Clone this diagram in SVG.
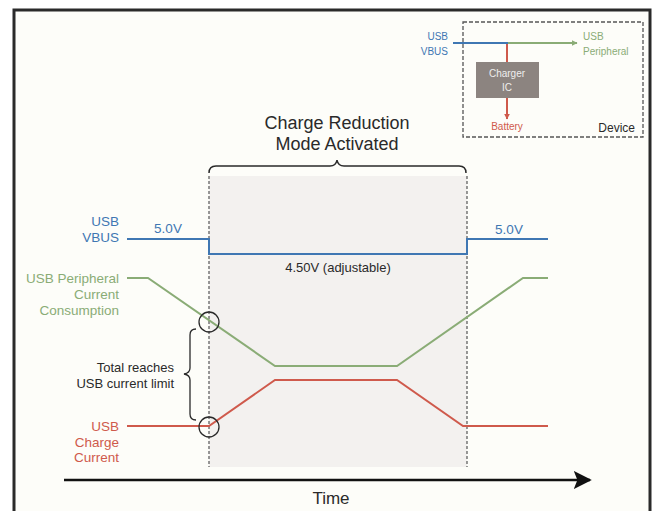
<svg xmlns="http://www.w3.org/2000/svg" width="654" height="511" viewBox="0 0 654 511">
<defs>
<style>
text{font-family:"Liberation Sans",Arial,sans-serif}
.blue{fill:#3f77b3}
.green{fill:#8aac76}
.red{fill:#cf5a4c}
.dark{fill:#2a2a2a}
.ln{fill:none;stroke-width:2}
.dash{stroke:#555;stroke-width:1.2;stroke-dasharray:3,2;fill:none}
</style>
<marker id="ah" viewBox="0 0 10 10" refX="9" refY="5" markerWidth="6" markerHeight="6" orient="auto" markerUnits="userSpaceOnUse"><path d="M0,0 L10,5 L0,10 z" fill="#8aac76"/></marker>
<marker id="ahr" viewBox="0 0 10 10" refX="9" refY="5" markerWidth="6" markerHeight="6" orient="auto" markerUnits="userSpaceOnUse"><path d="M0,0 L10,5 L0,10 z" fill="#cf5a4c"/></marker>
<marker id="ahk" viewBox="0 0 10 10" refX="9" refY="5" markerWidth="18" markerHeight="18" orient="auto" markerUnits="userSpaceOnUse"><path d="M0,0 L10,5 L0,10 L2,5 z" fill="#111"/></marker>
</defs>
<rect width="654" height="511" fill="#ffffff"/>
<rect x="14" y="10" width="636" height="520" fill="#fdfdf9" stroke="#2a2a2a" stroke-width="3"/>

<g id="shade">
<rect x="209" y="176" width="258" height="291" fill="#f3f1ef"/>
<line class="dash" x1="209" y1="176" x2="209" y2="467"/>
<line class="dash" x1="467" y1="176" x2="467" y2="467"/>
</g>

<g id="title">
<text x="337" y="129" font-size="18" text-anchor="middle" class="dark">Charge Reduction</text>
<text x="337" y="150" font-size="18" text-anchor="middle" class="dark">Mode Activated</text>
<path d="M209,173 Q209,166 216,166 L330,166 Q336,166 337,160 Q338,166 344,166 L459,166 Q466,166 466,173" fill="none" stroke="#2a2a2a" stroke-width="1.5"/>
</g>

<g id="inset">
<rect x="463" y="22" width="180" height="115" fill="none" stroke="#555" stroke-width="1.3" stroke-dasharray="4,2"/>
<text x="448" y="40" font-size="10" text-anchor="end" class="blue">USB</text>
<text x="448" y="55" font-size="10" text-anchor="end" class="blue">VBUS</text>
<text x="583" y="40" font-size="10" class="green">USB</text>
<text x="583" y="55" font-size="10" class="green">Peripheral</text>
<line x1="507" y1="43" x2="577" y2="43" stroke="#8aac76" stroke-width="2" marker-end="url(#ah)"/>
<line x1="453" y1="43" x2="508" y2="43" stroke="#3f77b3" stroke-width="2"/>
<line x1="507" y1="44" x2="507" y2="62" stroke="#cf5a4c" stroke-width="2"/>
<line x1="507" y1="98" x2="507" y2="119" stroke="#cf5a4c" stroke-width="2" marker-end="url(#ahr)"/>
<rect x="476" y="62" width="63" height="36" fill="#8c8480"/>
<text x="507" y="77" font-size="10" text-anchor="middle" fill="#eeeeee">Charger</text>
<text x="507" y="91" font-size="10" text-anchor="middle" fill="#eeeeee">IC</text>
<text x="507" y="130" font-size="10" text-anchor="middle" class="red">Battery</text>
<text x="635" y="132" font-size="12" text-anchor="end" class="dark">Device</text>
</g>

<g id="vbus">
<text x="119" y="226" font-size="13.5" text-anchor="end" class="blue">USB</text>
<text x="119" y="242" font-size="13.5" text-anchor="end" class="blue">VBUS</text>
<text x="168" y="233" font-size="13.5" text-anchor="middle" class="blue">5.0V</text>
<text x="509" y="234" font-size="13.5" text-anchor="middle" class="blue">5.0V</text>
<text x="338" y="272" font-size="13" text-anchor="middle" class="dark">4.50V (adjustable)</text>
</g>

<g id="peripheral">
<text x="119" y="283" font-size="13.5" text-anchor="end" class="green">USB Peripheral</text>
<text x="119" y="299" font-size="13.5" text-anchor="end" class="green">Current</text>
<text x="119" y="315" font-size="13.5" text-anchor="end" class="green">Consumption</text>
</g>

<g id="charge">
<text x="119" y="431" font-size="13.5" text-anchor="end" class="red">USB</text>
<text x="119" y="447" font-size="13.5" text-anchor="end" class="red">Charge</text>
<text x="119" y="462" font-size="13.5" text-anchor="end" class="red">Current</text>
</g>

<g id="limit">
<text x="174" y="372" font-size="13" text-anchor="end" class="dark">Total reaches</text>
<text x="174" y="388" font-size="13" text-anchor="end" class="dark">USB current limit</text>
<path d="M196,329 Q190,329 190,335 L190,368 Q190,373 184,374 Q190,375 190,380 L190,414 Q190,420 196,420" fill="none" stroke="#2a2a2a" stroke-width="1.3"/>
</g>

<g id="connectors">
<polyline class="ln" stroke="#3f77b3" points="127,239 209,239 209,254 467,254 467,239 548,239"/>
<polyline class="ln" stroke="#8aac76" points="127,278 148,278 275,366 397,366 523,278 548,278"/>
<polyline class="ln" stroke="#cf5a4c" points="127,426 209,426 275,380 397,380 463,426 548,426"/>
<circle cx="209" cy="322" r="10" fill="none" stroke="#2a2a2a" stroke-width="1.3"/>
<circle cx="209" cy="427" r="10" fill="none" stroke="#2a2a2a" stroke-width="1.3"/>
<line x1="64" y1="480" x2="590" y2="480" stroke="#111" stroke-width="2.5" marker-end="url(#ahk)"/>
</g>
<text x="331" y="504" font-size="17" text-anchor="middle" class="dark">Time</text>
</svg>
